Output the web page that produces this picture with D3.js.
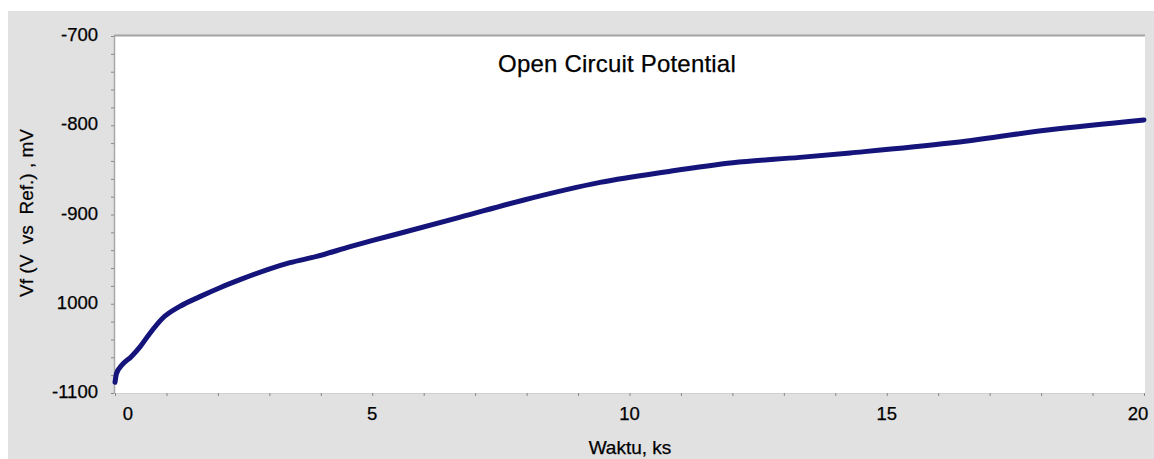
<!DOCTYPE html>
<html>
<head>
<meta charset="utf-8">
<script src="https://cdn.jsdelivr.net/npm/d3@7"></script>
<style>
  body { margin: 0; background: #fff; }
  text { font-family: "Liberation Sans", Arial, sans-serif; fill: #000; stroke: #000; stroke-width: 0.25px; }
</style>
</head>
<body>
<svg width="1154" height="459"></svg>
<script>
// waktu (ks) and potential (mV)
const timeKs = [0, 0.03, 0.13, 0.32, 0.49, 0.68, 0.93, 1.26, 1.65, 2.04, 2.43, 2.95, 3.40, 3.92,
  4.57, 5.01, 5.54, 6.71, 7.93, 9.43, 10.73, 12.01, 13.31, 14.29, 16.23, 18.17, 20.0];
const potential = [-1088, -1078, -1069, -1059, -1048, -1033, -1016, -1003, -992, -982, -973, -962, -954, -947,
  -936, -929, -921, -903, -884, -864, -852, -842, -836, -831, -820, -805, -794];

const xTicks = [0, 5, 10, 15, 20];
const xTickLabels = ["0", "5", "10", "15", "20"];
const yTicks = [-700, -800, -900, -1000, -1100];
const yTickLabels = ["-700", "-800", "-900", "1000", "-1100"];

const title = "Open Circuit Potential";
const xTitle = "Waktu, ks";
const yTitle = "Vf (V  vs  Ref.) , mV";

const svg = d3.select("svg");

// gray panel behind everything
svg.append("rect")
    .attr("x", 8).attr("y", 11)
    .attr("width", 1146).attr("height", 448)
    .attr("fill", "#e1e1e1");

const plot = { left: 114, top: 36, right: 1145, bottom: 393 };

svg.append("rect")
    .attr("x", plot.left).attr("y", plot.top)
    .attr("width", plot.right - plot.left).attr("height", plot.bottom - plot.top)
    .attr("fill", "#fff");

const x = d3.scaleLinear().domain([0, 20]).range([115, 1144]);
const y = d3.scaleLinear().domain([-1100, -700]).range([plot.bottom, plot.top]);

// borders
svg.append("line")
    .attr("x1", plot.left).attr("x2", plot.right)
    .attr("y1", plot.top - 0.5).attr("y2", plot.top - 0.5)
    .attr("stroke", "#a3a3a3").attr("stroke-width", 2);
svg.append("line")
    .attr("x1", plot.left).attr("x2", plot.right)
    .attr("y1", plot.bottom + 0.5).attr("y2", plot.bottom + 0.5)
    .attr("stroke", "#d0d0d0").attr("stroke-width", 1);
svg.append("line")
    .attr("x1", plot.left + 0.5).attr("x2", plot.left + 0.5)
    .attr("y1", plot.top).attr("y2", plot.bottom)
    .attr("stroke", "#a8a8a8").attr("stroke-width", 1.5);

// small ticks
const yAxis = d3.axisLeft(y)
    .tickValues(d3.range(-1100, -699, 20))
    .tickSize(3)
    .tickFormat("");
svg.append("g")
    .attr("transform", `translate(${plot.left},0)`)
    .call(yAxis)
    .call(g => g.select(".domain").remove())
    .call(g => g.selectAll("line").attr("stroke", "#888"));

const xAxis = d3.axisBottom(x)
    .tickValues(d3.range(0, 20.01, 1))
    .tickSize(3)
    .tickFormat("");
svg.append("g")
    .attr("transform", `translate(0,${plot.bottom})`)
    .call(xAxis)
    .call(g => g.select(".domain").remove())
    .call(g => g.selectAll("line").attr("stroke", "#888"));

// tick labels
svg.selectAll("text.ylab")
    .data(yTicks)
    .enter().append("text")
    .attr("class", "ylab")
    .attr("x", 98)
    .attr("y", d => y(d) + 5)
    .attr("text-anchor", "end")
    .attr("font-size", 18.5)
    .text((d, i) => yTickLabels[i]);

const xShift = { 0: 13, 20: -6 };
svg.selectAll("text.xlab")
    .data(xTicks)
    .enter().append("text")
    .attr("class", "xlab")
    .attr("x", d => x(d) + (xShift[d] || 0))
    .attr("y", 420)
    .attr("text-anchor", "middle")
    .attr("font-size", 18.5)
    .text((d, i) => xTickLabels[i]);

// titles
svg.append("text")
    .attr("x", 617).attr("y", 72)
    .attr("text-anchor", "middle")
    .attr("font-size", 24)
    .attr("letter-spacing", "0.2")
    .text(title);

svg.append("text")
    .attr("x", 630).attr("y", 454)
    .attr("text-anchor", "middle")
    .attr("font-size", 19)
    .text(xTitle);

svg.append("text")
    .attr("transform", "translate(33,213) rotate(-90)")
    .attr("text-anchor", "middle")
    .attr("font-size", 19)
    .style("white-space", "pre")
    .text(yTitle);

// the curve
const pts = timeKs.map((t, i) => [t, potential[i]]);
const line = d3.line()
    .x(d => x(d[0]))
    .y(d => y(d[1]))
    .curve(d3.curveMonotoneX);

svg.append("path")
    .datum(pts)
    .attr("d", line)
    .attr("fill", "none")
    .attr("stroke", "#14147a")
    .attr("stroke-width", 5)
    .attr("stroke-linecap", "round")
    .attr("stroke-linejoin", "round");
</script>
</body>
</html>
